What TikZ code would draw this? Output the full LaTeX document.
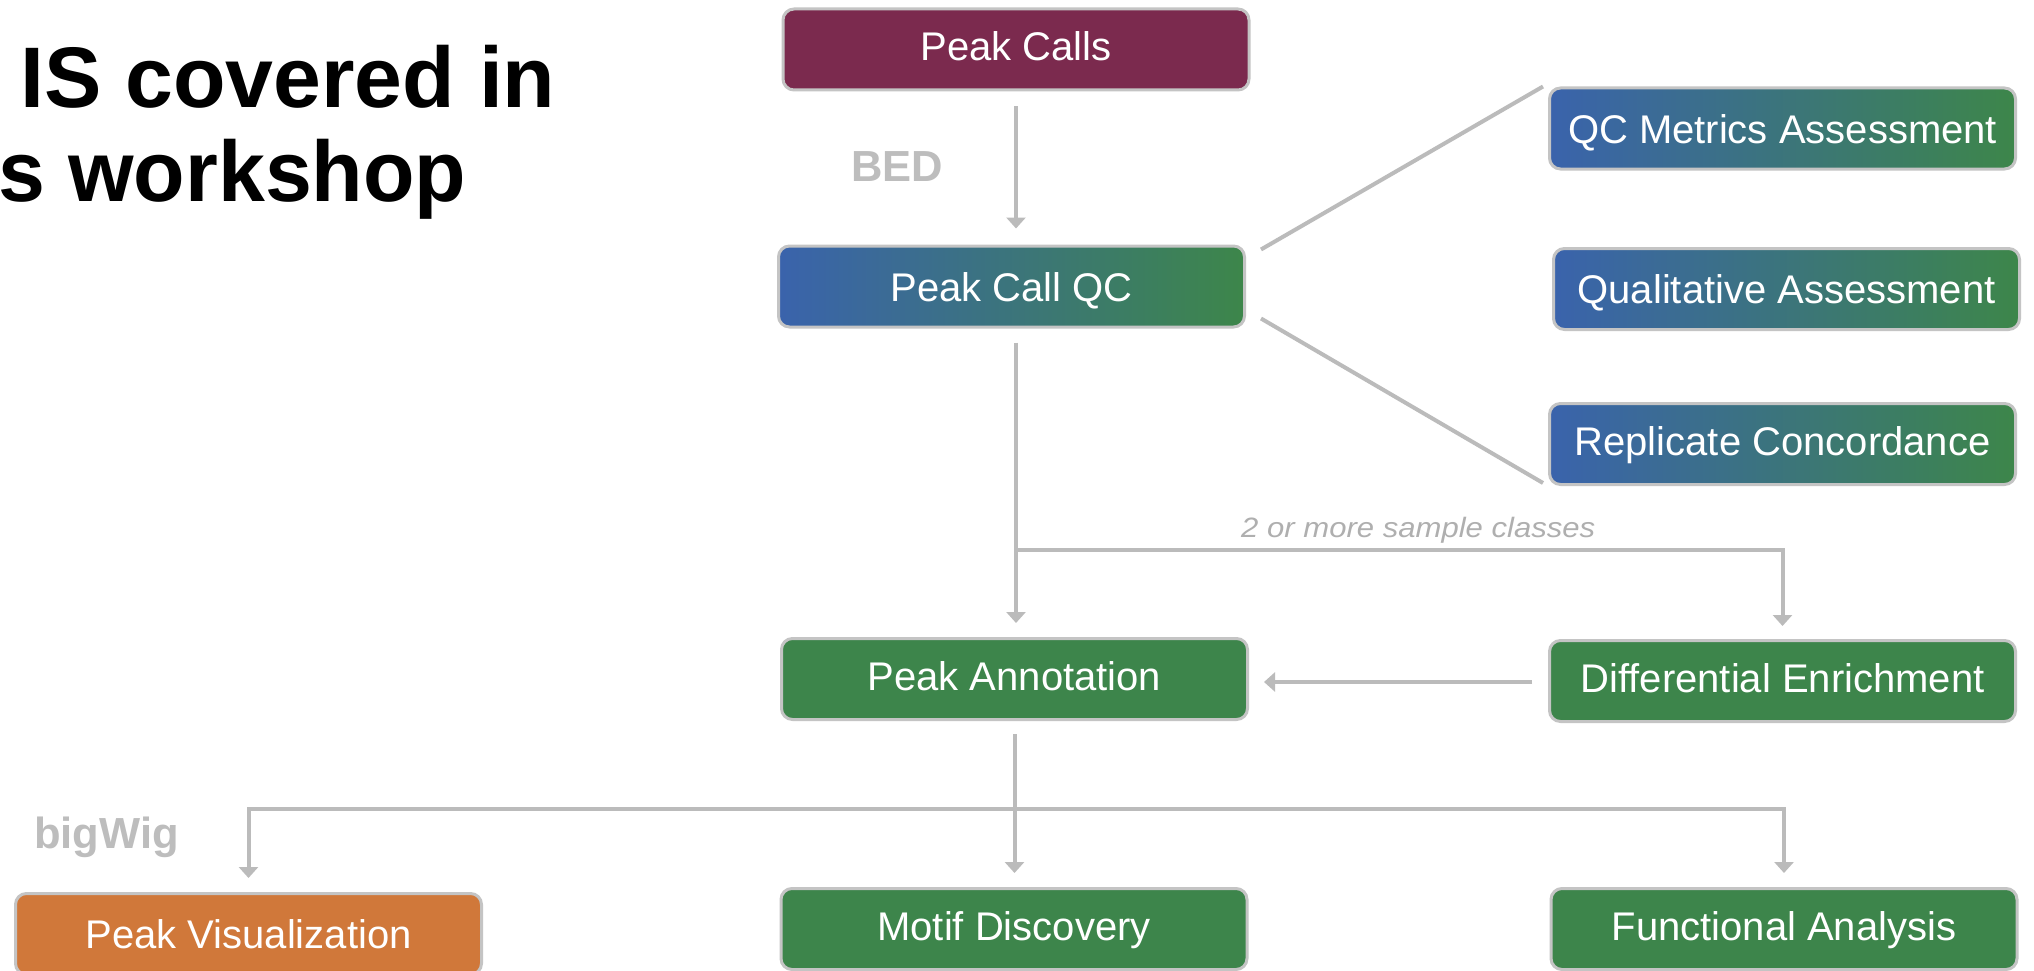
\documentclass[tikz,border=0pt]{standalone}
\usepackage{fontspec}
\setmainfont{Liberation Sans}
\usetikzlibrary{arrows.meta,calc}
\definecolor{maroon}{HTML}{7B2A4E}
\definecolor{qblue}{HTML}{3A63AC}
\definecolor{qgreen}{HTML}{3D864A}
\definecolor{dgreen}{HTML}{3D854B}
\definecolor{orng}{HTML}{D0783A}
\definecolor{linegray}{HTML}{BBBBBB}
\definecolor{bordergray}{HTML}{C4C4C4}
\definecolor{labelgray}{HTML}{BDBDBD}
\definecolor{italgray}{HTML}{AFAFAF}
\tikzset{
 box/.style={draw=bordergray, line width=3pt, rounded corners=11pt, minimum width=466pt, minimum height=81pt, inner sep=0pt, text=white, text height=29pt, text depth=0pt, font=\fontsize{40}{48}\selectfont},
 gradbox/.style={box, left color=qblue, right color=qgreen},
 greenbox/.style={box, fill=dgreen, text depth=6pt},
 conn/.style={draw=linegray, line width=4pt},
 arr/.style={conn, -{Triangle[length=11pt,width=19pt]}},
 lbl/.style={anchor=base west, inner sep=0pt, text=labelgray, font=\bfseries\fontsize{43.5}{50}\selectfont},
 ttl/.style={anchor=base west, inner sep=0pt, text=black, font=\bfseries\fontsize{86}{100}\selectfont},
}
\begin{document}
\begin{tikzpicture}[x=1pt,y=-1pt]
\useasboundingbox (0,0) rectangle (2034,971);
\clip (0,0) rectangle (2034,971);
\fill[white] (0,0) rectangle (2034,971);

% title
\node[ttl] (t1) at (20,108) {IS covered in};
\node[ttl] (t2) at (-2,201) {\scalebox{0.98}[1]{s workshop}};

% boxes
\node[box, fill=maroon, text depth=6pt] (calls) at (1016,49.5) {Peak Calls};
\node[gradbox] (qc) at (1011.5,286.5) {Peak Call QC};
\node[gradbox] (qcm) at (1782.5,128.5) {QC Metrics Assessment};
\node[gradbox] (qual) at (1786.5,289) {Qualitative Assessment};
\node[gradbox, text depth=6pt] (rep) at (1782.5,444) {Replicate Concordance};
\node[greenbox] (ann) at (1014.5,679) {Peak Annotation};
\node[greenbox] (diff) at (1782.5,681) {Differential Enrichment};
\node[box, fill=orng] (vis) at (248.5,934) {Peak Visualization};
\node[greenbox] (motif) at (1014,929) {Motif Discovery};
\node[greenbox] (func) at (1784,929) {Functional Analysis};

% labels
\node[lbl] (bed) at (851,181) {BED};
\node[lbl] (bw) at (34,848) {bigWig};
\node[anchor=base west, inner sep=0pt, text=italgray, font=\itshape\fontsize{28}{32}\selectfont] (cls) at (1241,537) {\scalebox{1.11}[1]{2 or more sample classes}};

% connectors
\draw[arr] ($(calls.south)+(0,15)$) -- ($(calls.south |- qc.north)+(0,-16)$);
\draw[conn] ($(qc.north east)+(15,5)$) -- ($(qcm.north west)+(-5,0)$);
\draw[conn] ($(qc.south east)+(15,-10)$) -- ($(rep.south west)+(-5,-3)$);

\coordinate (b1) at ($(calls.south |- qc.south)+(0,221)$);
\draw[arr] ($(calls.south |- qc.south)+(0,14)$) -- ($(calls.south |- ann.north)+(0,-14)$);
\draw[arr] (b1) -| ($(diff.north)+(0,-13)$);
\draw[arr] ($(diff.west)+(-16,1)$) -- ($(diff.west -| ann.east)+(15,1)$);

\coordinate (b2) at ($(ann.south)+(0,87.5)$);
\draw[conn] ($(ann.south)+(0,13)$) -- (b2);
\draw[arr] (b2) -- ($(b2 |- motif.north)+(0,-14)$);
\draw[arr] (b2) -| ($(vis.north)+(0,-14)$);
\draw[arr] (b2) -| ($(func.north)+(0,-14)$);
\end{tikzpicture}
\end{document}
